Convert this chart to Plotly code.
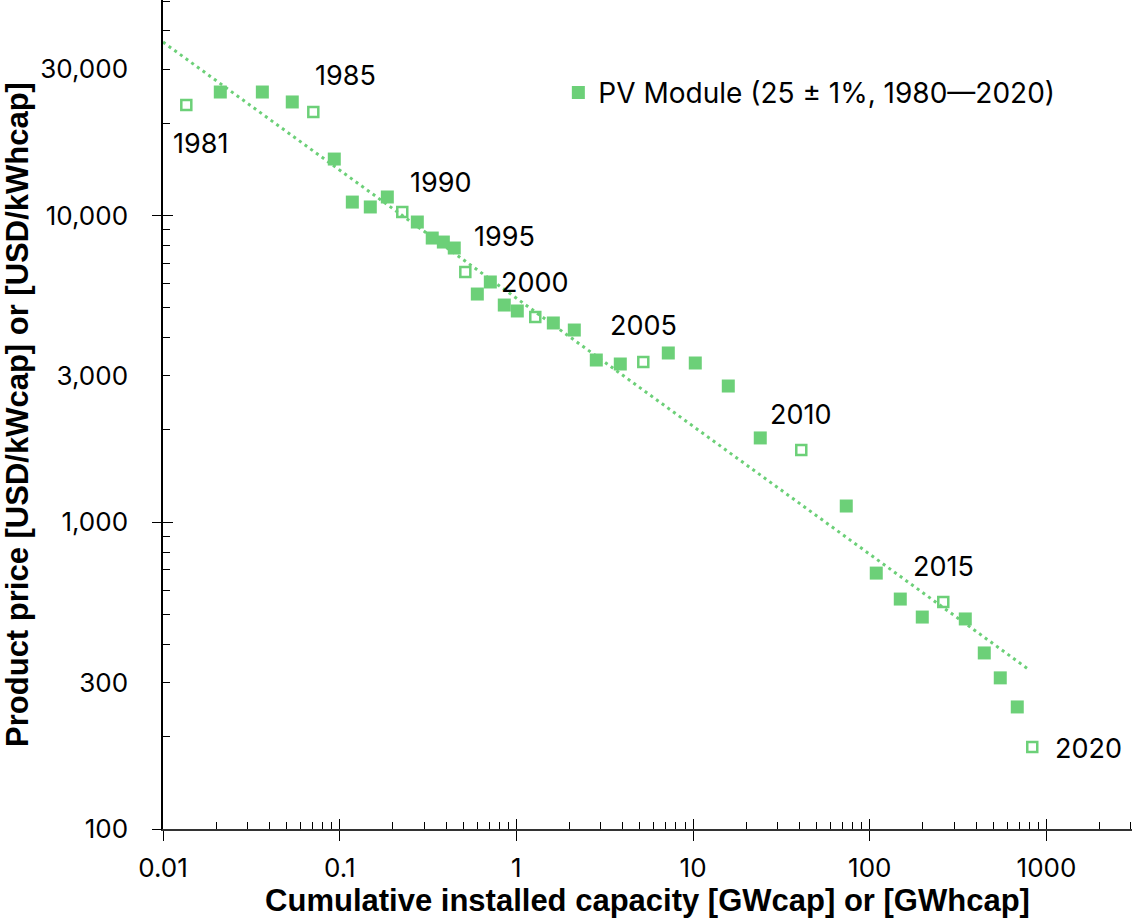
import numpy as np
import plotly.graph_objects as go

# ---- data ----
years = list(range(1981, 2021))
capacity_gw = [0.01355, 0.0211, 0.0365, 0.0539, 0.0709, 0.0932, 0.1179, 0.149, 0.186, 0.226,
               0.275, 0.334, 0.386, 0.445, 0.514, 0.601, 0.712, 0.854, 1.012, 1.279,
               1.618, 2.127, 2.833, 3.873, 5.226, 7.24, 10.29, 15.82, 24.0, 40.95,
               73.6, 108.8, 148.8, 198.2, 260.6, 347.1, 444.6, 547.6, 683.4, 830.9]
price_usd = [22940, 25290, 25290, 23470, 21770, 15290, 11070, 10670, 11500, 10270,
             9530, 8450, 8200, 7840, 6550, 5550, 6075, 5110, 4887, 4671,
             4466, 4236, 3382, 3282, 3332, 3565, 3307, 2782, 1884, 1721,
             1130, 683, 562, 491, 550, 484, 375, 311, 250, 185]
labeled_years = [1981, 1985, 1990, 1995, 2000, 2005, 2010, 2015, 2020]
trend_x = [0.01, 789]
trend_y = [36800, 332]

x_tickvals = [0.01, 0.1, 1, 10, 100, 1000]
x_ticktext = ["0.01", "0.1", "1", "10", "100", "1000"]
y_tickvals = [100, 300, 1000, 3000, 10000, 30000]
y_ticktext = ["100", "300", "1,000", "3,000", "10,000", "30,000"]
legend_name = "PV Module (25 ± 1%, 1980—2020)"

GREEN = "#6cd078"
TICK_FONT = dict(family="Inter", size=26, color="black")
TITLE_FONT = dict(family="Liberation Sans", size=31, color="black")

XR = [-2, 3.484]
YR = [2, 4.703]

filled_x = [c for c, y in zip(capacity_gw, years) if y not in labeled_years]
filled_y = [p for p, y in zip(price_usd, years) if y not in labeled_years]
open_x = [c for c, y in zip(capacity_gw, years) if y in labeled_years]
open_y = [p for p, y in zip(price_usd, years) if y in labeled_years]

fig = go.Figure()
fig.add_trace(go.Scatter(x=trend_x, y=trend_y, mode="lines", showlegend=False,
                         line=dict(color=GREEN, width=3, dash="3px,4px"), hoverinfo="skip"))
fig.add_trace(go.Scatter(x=filled_x, y=filled_y, mode="markers", name=legend_name,
                         marker=dict(symbol="square", size=13, color=GREEN, line=dict(width=0))))
fig.add_trace(go.Scatter(x=open_x, y=open_y, mode="markers", showlegend=False,
                         marker=dict(symbol="square-open", size=10, color=GREEN,
                                     line=dict(width=2.5, color=GREEN))))
# helper traces so the overlay tick axes are drawn
fig.add_trace(go.Scatter(x=[None], y=[None], xaxis="x2", yaxis="y2", showlegend=False, hoverinfo="skip"))
fig.add_trace(go.Scatter(x=[None], y=[None], xaxis="x2", yaxis="y3", showlegend=False, hoverinfo="skip"))

minor_vals = [m * 10 ** k for k in range(-2, 5) for m in range(2, 10)]

# annotations (year labels) with pixel offsets from their points
offsets = {1981: (14, 38), 1985: (32, -36), 1990: (39, -30), 1995: (39, -35), 2000: (0, -35),
           2005: (0, -36), 2010: (0, -35), 2015: (0, -35), 2020: (56, 1)}
for yr in labeled_years:
    i = years.index(yr)
    dx, dy = offsets[yr]
    fig.add_annotation(x=np.log10(capacity_gw[i]), y=np.log10(price_usd[i]), xref="x", yref="y",
                       text=str(yr), showarrow=False, xshift=dx, yshift=-dy,
                       font=dict(family="Inter", size=27, color="black"))

fig.update_layout(
    width=1132, height=922,
    margin=dict(l=163, r=0, t=0, b=93),
    paper_bgcolor="white", plot_bgcolor="white",
    xaxis=dict(type="log", range=XR, tickmode="array", tickvals=x_tickvals, ticktext=x_ticktext,
               ticks="outside", ticklen=10, tickwidth=1.3, tickcolor="black",
               tickfont=TICK_FONT, ticklabelstandoff=5,
               showline=True, linecolor="#333", linewidth=2, showgrid=False, zeroline=False,
               minor=dict(tickmode="array", tickvals=minor_vals, ticks="inside", ticklen=7,
                          tickwidth=1.2, tickcolor="black", showgrid=False),
               title=dict(text="<b>Cumulative installed capacity [GWcap] or [GWhcap]</b>",
                          font=TITLE_FONT, standoff=2)),
    yaxis=dict(type="log", range=YR, tickmode="array", tickvals=y_tickvals, ticktext=y_ticktext,
               ticks="", tickfont=TICK_FONT, ticklabelstandoff=28,
               showline=True, linecolor="black", linewidth=1.5, showgrid=False, zeroline=False,
               minor=dict(tickmode="array", tickvals=[v for v in minor_vals], ticks="inside", ticklen=7,
                          tickwidth=1.2, tickcolor="black", showgrid=False),
               title=dict(text="<b>Product price [USD/kWcap] or [USD/kWhcap]</b>",
                          font=TITLE_FONT, standoff=10)),
    xaxis2=dict(type="log", range=XR, overlaying="x", anchor="y", side="bottom",
                tickmode="array", tickvals=x_tickvals, ticks="inside", ticklen=10, tickwidth=1.3,
                tickcolor="black", showticklabels=False, showline=False, showgrid=False, zeroline=False),
    yaxis2=dict(type="log", range=YR, overlaying="y", anchor="x", side="left",
                tickmode="array", tickvals=[100, 1000, 10000], ticks="outside", ticklen=10, tickwidth=1.3,
                tickcolor="black", showticklabels=False, showline=False, showgrid=False, zeroline=False),
    yaxis3=dict(type="log", range=YR, overlaying="y", anchor="x", side="left",
                tickmode="array", tickvals=[100, 1000, 10000], ticks="inside", ticklen=10, tickwidth=1.3,
                tickcolor="black", showticklabels=False, showline=False, showgrid=False, zeroline=False),
    legend=dict(x=0.408, y=0.888, xanchor="left", yanchor="middle", bgcolor="rgba(0,0,0,0)",
                font=dict(family="Inter", size=28, color="black")),
)

fig.write_html("out.html")
